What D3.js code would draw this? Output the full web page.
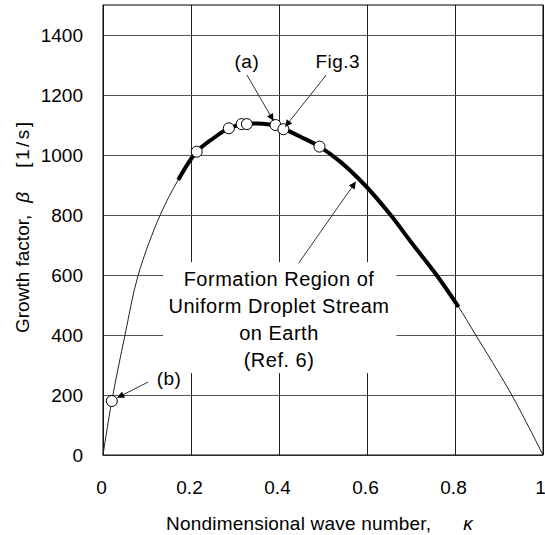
<!DOCTYPE html>
<html>
<head>
<meta charset="utf-8">
<script src="https://cdn.jsdelivr.net/npm/d3@7"></script>
<style>
body { margin: 0; background: #fff; }
text { font-family: "Liberation Sans", Arial, sans-serif; fill: #000; }
</style>
</head>
<body>
<div id="chart"></div>
<script>
// growth curve
const kappa = [0, 0.02, 0.05, 0.08, 0.13, 0.171, 0.213, 0.25, 0.286, 0.32, 0.35, 0.392, 0.41, 0.45, 0.492, 0.539, 0.595, 0.652, 0.70, 0.758, 0.808, 0.845, 0.929, 1];
const beta = [0, 180, 400, 600, 800, 917, 1011, 1055, 1089, 1103, 1105, 1098, 1088, 1060, 1028, 978, 900, 803, 710, 600, 494, 405, 200, 0];
// bold part = formation region on earth
const regionFrom = 0.171, regionTo = 0.808;

// open circles
const ptKappa = [0.02, 0.213, 0.286, 0.315, 0.327, 0.392, 0.41, 0.492];
const ptBeta = [180, 1011, 1089, 1103, 1103, 1100, 1086, 1028];

const xTicks = [0, 0.2, 0.4, 0.6, 0.8, 1];
const yTicks = [0, 200, 400, 600, 800, 1000, 1200, 1400];

const noteLines = ["Formation Region of", "Uniform Droplet Stream", "on Earth", "(Ref. 6)"];

const margin = {top: 5, right: 2, bottom: 80, left: 103},
    width = 545 - margin.left - margin.right,
    height = 535 - margin.top - margin.bottom;

const svg = d3.select("#chart")
    .append("svg")
    .attr("width", 545)
    .attr("height", 535);

const defs = svg.append("defs");
defs.append("marker")
    .attr("id", "head")
    .attr("viewBox", "0 0 10 10")
    .attr("refX", 10)
    .attr("refY", 5)
    .attr("markerUnits", "userSpaceOnUse")
    .attr("markerWidth", 9)
    .attr("markerHeight", 7)
    .attr("orient", "auto")
    .append("path")
    .attr("d", "M0,0L10,5L0,10Z")
    .attr("fill", "#000");

const g = svg.append("g")
    .attr("transform", `translate(${margin.left},${margin.top})`);

let x = d3.scaleLinear().domain([0, 1]).range([0, width]);
let y = d3.scaleLinear().domain([0, 1500]).range([height, 0]);

// grid + tick labels
let gx = g.append("g")
    .attr("transform", `translate(0,${height})`)
    .call(d3.axisBottom(x).tickValues(xTicks).tickSize(-height).tickPadding(26)
        .tickFormat(d3.format("~g")));
gx.select(".domain").remove();
gx.selectAll("line").attr("stroke", "#222");
gx.selectAll("text").attr("font-size", 19).attr("dx", d => d == 1 ? -3 : -2)
    .attr("font-family", "Liberation Sans, Arial, sans-serif");

let gy = g.append("g")
    .call(d3.axisLeft(y).tickValues(yTicks).tickSize(-width).tickPadding(20)
        .tickFormat(d3.format("d")));
gy.select(".domain").remove();
gy.selectAll("line").attr("stroke", "#555");
gy.selectAll("text").attr("font-size", 19).attr("dy", "0.36em")
    .attr("font-family", "Liberation Sans, Arial, sans-serif");

g.append("rect")
    .attr("width", width)
    .attr("height", height)
    .attr("fill", "none")
    .attr("stroke", "#000");

// white box behind the note hides the grid
g.append("rect")
    .attr("x", x(0.1365))
    .attr("y", y(643))
    .attr("width", x(0.6667) - x(0.1365))
    .attr("height", y(273) - y(643))
    .attr("fill", "#fff");

let pts = kappa.map((k, i) => [k, beta[i]]);
let line = d3.line()
    .x(d => x(d[0]))
    .y(d => y(d[1]))
    .curve(d3.curveCatmullRom.alpha(0.5));

g.append("path")
    .datum(pts)
    .attr("fill", "none")
    .attr("stroke", "#222")
    .attr("stroke-width", 1)
    .attr("d", line);

g.append("path")
    .datum(pts.filter(d => d[0] >= regionFrom && d[0] <= regionTo))
    .attr("fill", "none")
    .attr("stroke", "#000")
    .attr("stroke-width", 4)
    .attr("d", line);

g.selectAll("circle")
    .data(ptKappa)
    .join("circle")
    .attr("cx", d => x(d))
    .attr("cy", (d, i) => y(ptBeta[i]))
    .attr("r", 5.5)
    .attr("fill", "#fff")
    .attr("stroke", "#000")
    .attr("stroke-width", 1);

// arrows: [from, to] in data units
const arrows = [
    [[0.327, 1267], [0.3875, 1114]],
    [[0.5074, 1267], [0.414, 1094]],
    [[0.1024, 243], [0.0325, 191]],
    [[0.4444, 639], [0.5745, 911]]
];
arrows.forEach(a => {
    g.append("line")
        .attr("x1", x(a[0][0])).attr("y1", y(a[0][1]))
        .attr("x2", x(a[1][0])).attr("y2", y(a[1][1]))
        .attr("stroke", "#333")
        .attr("stroke-width", 1)
        .attr("marker-end", "url(#head)");
});

const labels = [["(a)", 0.327, 1313], ["Fig.3", 0.5336, 1313], ["(b)", 0.150, 257]];
labels.forEach(l => {
    g.append("text")
        .attr("x", x(l[1]))
        .attr("y", y(l[2]))
        .attr("dy", "0.36em")
        .attr("text-anchor", "middle")
        .attr("font-size", 19)
        .style("letter-spacing", "0.5px")
        .text(l[0]);
});

noteLines.forEach((t, i) => {
    g.append("text")
        .attr("x", x(0.4))
        .attr("y", y(563) + i * 26.8)
        .attr("text-anchor", "middle")
        .attr("font-size", 20)
        .style("letter-spacing", "0.5px")
        .text(t);
});

// axis titles
let xt = svg.append("text")
    .attr("x", 166)
    .attr("y", 530)
    .attr("font-size", 19)
    .style("letter-spacing", "0.2px");
xt.append("tspan").text("Nondimensional wave number,");
xt.append("tspan").attr("dx", 32).attr("font-style", "italic").text("κ");

let yt = svg.append("text")
    .attr("transform", "translate(29,333) rotate(-90)")
    .attr("font-size", 19);
yt.append("tspan").text("Growth factor,");
yt.append("tspan").attr("dx", 12).attr("font-style", "italic").text("β");
yt.append("tspan").attr("dx", 24).style("letter-spacing", "2.5px").text("[1/s]");
</script>
</body>
</html>
